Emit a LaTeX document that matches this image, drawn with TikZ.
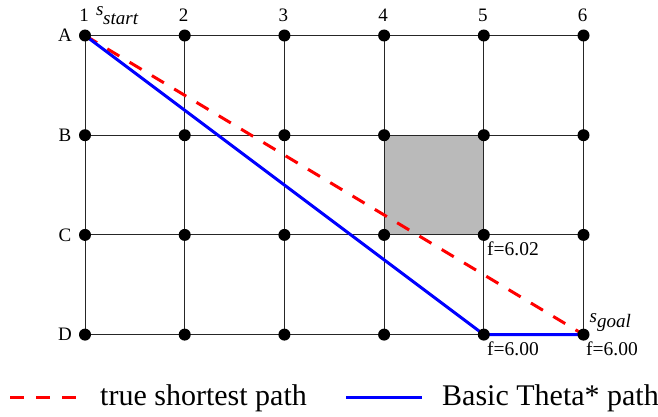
\documentclass[tikz,border=0pt]{standalone}
\usepackage{fontspec}
\setmainfont{Liberation Serif}
\usetikzlibrary{calc}
\begin{document}
\begin{tikzpicture}[x=1pt,y=-1pt,
  gridline/.style={draw=black!85,line width=1pt},
  dot/.style={circle,fill=black,inner sep=0pt,minimum size=12pt},
  lbl/.style={font=\fontsize{19}{22}\selectfont,inner sep=0pt},
  flbl/.style={font=\fontsize{19.5}{22}\selectfont,inner sep=0pt,anchor=north west},
  truepath/.style={draw=red,line width=3pt,dash pattern=on 14pt off 12pt},
  thetapath/.style={draw=blue,line width=3pt},
  legtext/.style={font=\fontsize{30}{34}\selectfont,inner sep=0pt,anchor=west},
  blocked/.style={fill=black!27}]
\useasboundingbox (0,0) rectangle (658,417);
% grid points
\foreach \r [count=\i from 0] in {A,B,C,D}{
  \foreach \c in {1,...,6}{
    \coordinate (\r\c) at ({85+(\c-1)*99.7},{35.5+\i*99.7});
  }
}
% blocked cell
\fill[blocked] (B4) rectangle (C5);
% grid lines
\foreach \r in {A,B,C,D}{ \draw[gridline] (\r1) -- (\r6); }
\foreach \c in {1,...,6}{ \draw[gridline] (A\c) -- (D\c); }
% paths
\draw[truepath] (A1) -- (D6);
\draw[thetapath] (A1) -- (D5) -- (D6);
% dots
\foreach \r in {A,B,C,D}{
  \foreach \c in {1,...,6}{
    \node[dot] (n\r\c) at (\r\c) {};
  }
}
% column labels
\foreach \c in {1,...,6}{
  \node[lbl] (col\c) at ($(A\c)+(-1,-20)$) {\c};
}
% row labels
\foreach \r in {A,B,C,D}{
  \node[lbl] (row\r) at ($(\r1)+(-20,0)$) {\r};
}
% start / goal labels
\node[lbl,anchor=base west,font=\fontsize{19}{22}\selectfont\itshape] (ss) at (96,15.5) {s};
\node[lbl,anchor=base west,font=\fontsize{19}{22}\selectfont\itshape] (sst) at (103,25) {start};
\node[lbl,anchor=base west,font=\fontsize{19}{22}\selectfont\itshape] (gs) at (589.5,322) {s};
\node[lbl,anchor=base west,font=\fontsize{19}{22}\selectfont\itshape] (gsub) at (597,327.5) {goal};
% f values
\node[flbl] (f1) at (487,242) {f=6.02};
\node[flbl] (f2) at (487,342) {f=6.00};
\node[flbl] (f3) at (586,342) {f=6.00};
% legend
\coordinate (l1a) at (10,397);
\coordinate (l1b) at (78,397);
\coordinate (l2a) at (346,397);
\coordinate (l2b) at (422,397);
\draw[truepath] (l1a) -- (l1b);
\draw[thetapath] (l2a) -- (l2b);
\node[legtext] (t1) at (100,398) {true shortest path};
\node[legtext] (t2) at (442,398) {Basic Theta* path};
\end{tikzpicture}
\end{document}
